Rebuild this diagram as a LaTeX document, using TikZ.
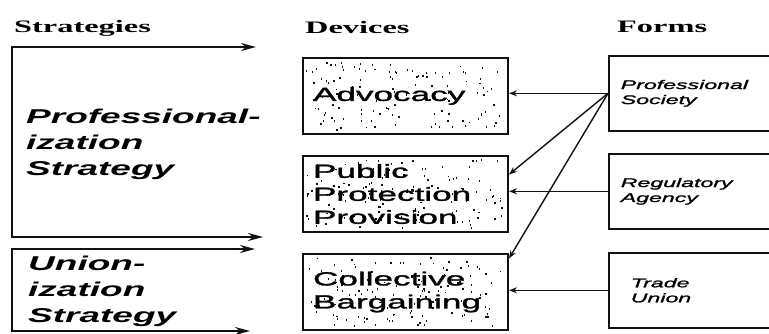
\documentclass[tikz,border=0pt]{standalone}
\usepackage{fontspec}
\setmainfont{Liberation Sans}[FakeStretch=1.85]
\newfontfamily\headfont{Liberation Serif}[FakeStretch=1.85]
\newfontfamily\devfont{Liberation Sans}[FakeStretch=1.85,FakeBold=1.6]
\usetikzlibrary{arrows.meta,calc}
\definecolor{inkcol}{HTML}{111111}

\begin{document}
\begin{tikzpicture}[x=1pt,y=-1pt,
	headtext/.style={anchor=base west,inner sep=0pt,font=\headfont\bfseries\fontsize{17.5}{18}\selectfont},
	strattext/.style={anchor=west,inner sep=0pt,align=left,font=\bfseries\itshape\fontsize{20}{26}\selectfont},
	devbox/.style={draw=inkcol,line width=2pt,anchor=north west,minimum width=205pt,minimum height=76pt,text width=185pt,inner xsep=10pt,align=left,font=\devfont\fontsize{19}{23}\selectfont},
	formbox/.style={draw=inkcol,line width=1.6pt,anchor=north west,minimum height=75pt,text width=140pt,inner xsep=12pt,align=left,font=\devfont\itshape\fontsize{12.5}{15}\selectfont},
	stratarr/.style={{Stealth[length=15pt,width=8pt]}-{Stealth[length=15pt,width=8pt]},line width=1.8pt,draw=inkcol},
	linkarr/.style={-{Stealth[length=8pt,width=6pt]},line width=1.4pt,draw=inkcol}]
\clip (0,0) rectangle (769,333);
\fill[white] (0,0) rectangle (769,333);
\pgfmathsetseed{7}

\node[headtext] (hstrat) at (14,32) {Strategies};
\node[headtext] (hdev) at (305,33) {Devices};
\node[headtext] (hform) at (617,32) {Forms};

\coordinate (proftop) at (256,47);
\coordinate (profcorner) at (12,47);
\coordinate (profbot) at (263,237);
\coordinate (uniontop) at (255,249);
\coordinate (unionbot) at (250,331);
\draw[stratarr] (proftop) -- (profcorner) |- (profbot);
\draw[stratarr] (uniontop) -| (12,331) -- (unionbot);
\node[strattext] (prof) at (26,144) {Professional-\\ization\\Strategy};
\node[strattext] (union) at (28,291) {Union-\\ization\\Strategy};

\foreach \id/\txt/\y in {
	adv/Advocacy/57,
	pub/{Public\\Protection\\Provision}/155,
	col/{Collective\\Bargaining}/253%
	}{
	\node[devbox] (\id) at (302,\y) {};
	\foreach \k in {1,...,130}
		\fill[inkcol] ($(\id.north west)+({4+196*rnd},{4+68*rnd})$) rectangle +(1.3,1.9);
	\node[devbox,draw=none] at (302,\y) {\txt};
	}

\node[formbox] (soc) at (608,55) {Professional\\Society};
\node[formbox] (reg) at (608,153) {Regulatory\\Agency};
\node[formbox,inner xsep=22pt] (uni) at (608,252) {Trade\\Union};

\draw[linkarr] (soc.west) -- (soc.west -| adv.east);
\draw[linkarr] (soc.west) -- ($(pub.north east)!0.25!(pub.south east)$);
\draw[linkarr] (soc.west) -- ($(col.north east)!0.07!(col.south east)$);
\draw[linkarr] (reg.west) -- (reg.west -| pub.east);
\draw[linkarr] (uni.west) -- (uni.west -| col.east);
\end{tikzpicture}
\end{document}
